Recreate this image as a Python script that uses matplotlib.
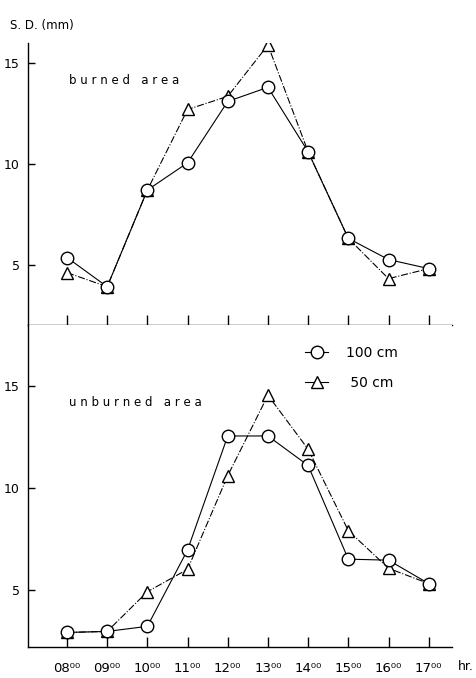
import matplotlib
matplotlib.use("Agg")
import matplotlib.pyplot as plt
from matplotlib.lines import Line2D

hours = ["08", "09", "10", "11", "12", "13", "14", "15", "16", "17"]
tick_labels = [h + "\u2070\u2070" for h in hours]

burned_100 = [5.35, 3.9, 8.7, 10.05, 13.1, 13.8, 10.6, 6.3, 5.25, 4.8]
burned_50 = [4.6, 3.9, 8.7, 12.7, 13.35, 15.9, 10.6, 6.3, 4.3, 4.8]
unburned_100 = [2.9, 2.95, 3.2, 6.95, 12.55, 12.55, 11.1, 6.5, 6.45, 5.3]
unburned_50 = [2.9, 2.95, 4.9, 6.0, 10.6, 14.55, 11.9, 7.9, 6.05, 5.3]

x = list(range(len(hours)))

W, H = 477, 678
fig = plt.figure(figsize=(W / 100, H / 100), dpi=100)
plt.rcParams['font.family'] = ['DejaVu Sans']

left = 28 / W
width = (452 - 28) / W
ax1 = fig.add_axes([left, 1 - 325 / H, width, (325 - 43) / H])
ax2 = fig.add_axes([left, 1 - 646.7 / H, width, (646.7 - 325) / H])

xlim = (-0.97, 9.58)

def style(ax, ylim):
    ax.set_xlim(*xlim)
    ax.set_ylim(*ylim)
    ax.spines['top'].set_visible(False)
    ax.spines['right'].set_visible(False)
    for s in ['left', 'bottom']:
        ax.spines[s].set_linewidth(1.0)
    ax.set_xticks(x)
    ax.set_yticks([5, 10, 15])
    ax.tick_params(axis='x', direction='in', length=7, width=1.0)
    ax.tick_params(axis='y', direction='in', length=5, width=1.0, labelsize=9, pad=6)

mk100 = dict(marker='o', markersize=9, markerfacecolor='white', markeredgecolor='black',
             markeredgewidth=1.0, color='black', linewidth=0.8)
mk50 = dict(marker='^', markersize=8, markerfacecolor='white', markeredgecolor='black',
            markeredgewidth=1.0, color='black', linewidth=0.8, linestyle='-.')

ax1.plot(x, burned_50, **mk50)
ax1.plot(x, burned_100, **mk100)
style(ax1, (2.0, 16.0))
ax1.tick_params(axis='x', labelbottom=False)
ax1.text(0.05, 14.15, "b u r n e d   a r e a", fontsize=8.5, ha='left', va='center')

ax2.plot(x, unburned_50, **mk50)
ax2.plot(x, unburned_100, **mk100)
style(ax2, (2.2, 18.0))
ax2.set_xticklabels(tick_labels, fontsize=9.5)
ax2.tick_params(axis='x', pad=11)
ax2.text(0.05, 14.2, "u n b u r n e d   a r e a", fontsize=8.5, ha='left', va='center')

handles = [Line2D([], [], **mk100), Line2D([], [], **{**mk50, 'linestyle': '-'})]
ax2.legend(handles, ["100 cm", " 50 cm"], loc='upper left', bbox_to_anchor=(0.625, 0.975),
           frameon=False, fontsize=10, handlelength=1.6, handletextpad=1.3, labelspacing=1.2)

fig.text(10 / W, 1 - 25 / H, "S. D. (mm)", fontsize=8.5, ha='left', va='center')
fig.text(458 / W, 1 - 667 / H, "hr.", fontsize=9, ha='left', va='center')

fig.savefig("out.png", dpi=100)
